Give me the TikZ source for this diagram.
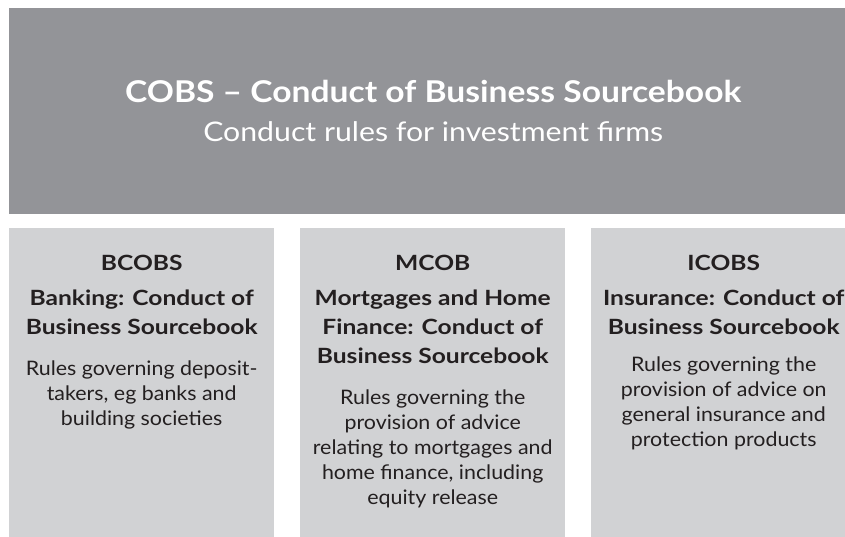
\documentclass[tikz,border=0pt]{standalone}
\usepackage{fontspec}
\setmainfont{Lato}
\newfontfamily\widesans{Lato}[FakeStretch=1.12]
\newfontfamily\headsans{Lato}[FakeStretch=1.17]
\newfontfamily\bodysans{Lato}[FakeStretch=1.07]
\usetikzlibrary{positioning}
\definecolor{cobsgrey}{HTML}{939498}
\definecolor{boxgrey}{HTML}{D1D2D4}
\definecolor{inkdark}{HTML}{231F20}
\tikzset{
  topbox/.style={fill=cobsgrey, minimum width=848pt, minimum height=206pt, inner sep=0pt, anchor=north west},
  srcbox/.style={fill=boxgrey, minimum width=265pt, minimum height=320pt, inner sep=0pt, anchor=north west},
  boxcode/.style={text=inkdark, font=\headsans\bfseries\fontsize{21}{26}\selectfont, inner sep=0pt},
  boxname/.style={text=inkdark, font=\headsans\bfseries\fontsize{21}{29}\selectfont, align=center, inner sep=0pt},
  boxtext/.style={text=inkdark, font=\bodysans\fontsize{20}{25}\selectfont, align=center, inner sep=0pt},
}
\begin{document}
\begin{tikzpicture}[x=1pt,y=-1pt]
  \useasboundingbox (0,0) rectangle (845,536);
  \clip (0,0) rectangle (845,536);
  % top box
  \node[topbox] (cobs) at (9,8) {};
  \node[text=white, align=center, inner sep=0pt, font=\widesans\fontsize{27}{39}\selectfont] (cobstitle) at (cobs.center)
    {{\bfseries\fontsize{30}{39}\selectfont COBS – Conduct of Business Sourcebook}\\Conduct rules for investment firms};
  % the three sourcebooks
  \node[srcbox] (bcobs) at (9,228) {};
  \node[srcbox] (mcob) at (300,228) {};
  \node[srcbox] (icobs) at (591,228) {};
  \node[boxcode, below=27pt of bcobs.north] (bcobscode) {BCOBS};
  \node[boxcode, below=27pt of mcob.north] (mcobcode) {MCOB};
  \node[boxcode, below=27pt of icobs.north] (icobscode) {ICOBS};
  \node[boxname, below=19pt of bcobscode] (bcobsname) {Banking: Conduct of\\Business Sourcebook};
  \node[boxname, below=19pt of mcobcode] (mcobname) {Mortgages and Home\\Finance: Conduct of\\Business Sourcebook};
  \node[boxname, below=19pt of icobscode] (icobsname) {Insurance: Conduct of\\Business Sourcebook};
  \node[boxtext, below=25pt of bcobsname] (bcobstext)
    {Rules governing deposit-\\takers, eg banks and\\building societies};
  \node[boxtext, below=25pt of mcobname] (mcobtext)
    {Rules governing the\\provision of advice\\relating to mortgages and\\home finance, including\\equity release};
  \node[boxtext, below=21pt of icobsname] (icobstext)
    {Rules governing the\\provision of advice on\\general insurance and\\protection products};
\end{tikzpicture}
\end{document}
